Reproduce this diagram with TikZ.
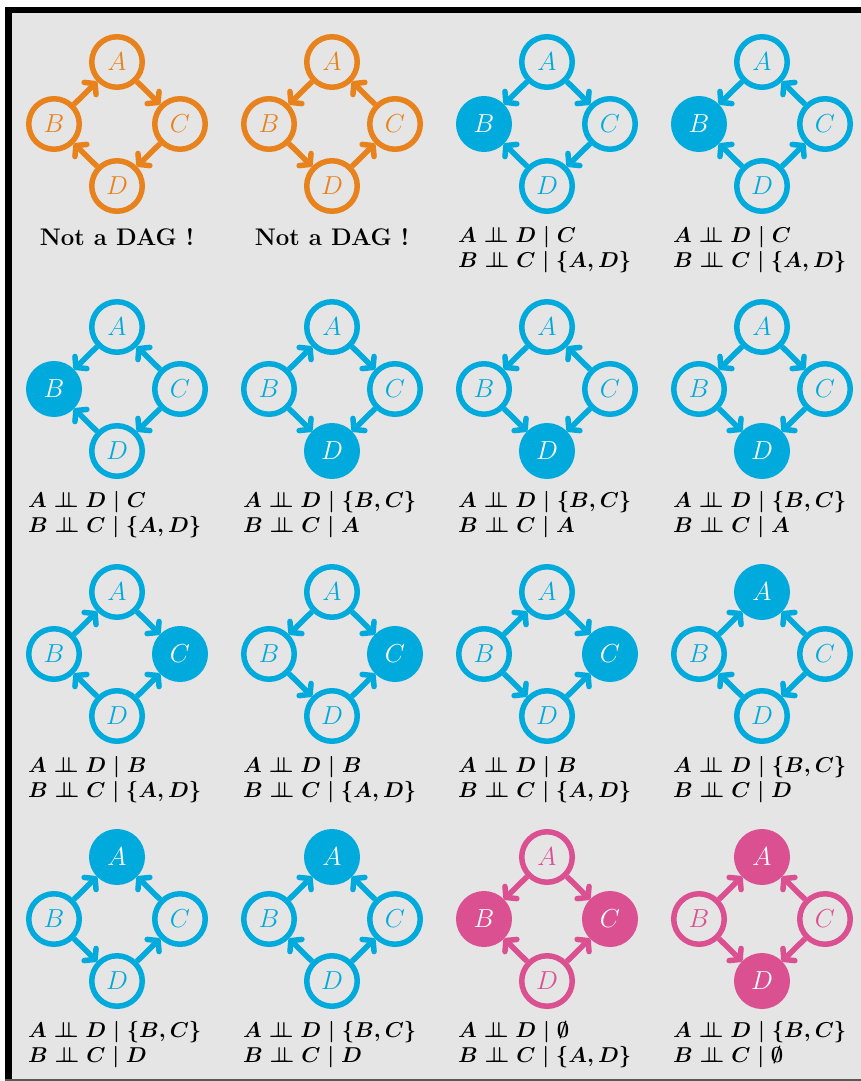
\RequirePackage{fix-cm}
\documentclass[tikz,border=0pt]{standalone}
\usepackage{amsmath}
\usetikzlibrary{arrows.meta}
\definecolor{dagorange}{RGB}{232,130,28}
\definecolor{dagblue}{RGB}{0,170,220}
\definecolor{dagpink}{RGB}{218,80,145}
\definecolor{panelgray}{RGB}{229,229,229}
\newcommand{\indep}{\mathrel{\perp\mkern-10mu\perp}}
\newcommand{\dagnodes}[8]{%
  \node[#5=#4] (#1A) at (#2,#3) {$A$};
  \node[#6=#4] (#1B) at (#2-63,#3+62) {$B$};
  \node[#7=#4] (#1C) at (#2+63,#3+62) {$C$};
  \node[#8=#4] (#1D) at (#2,#3+124) {$D$};
}
\newcommand{\dagedges}[3]{\foreach \s/\t in {#3} {\draw[arr=#2] (#1\s) -- (#1\t);}}
\newcommand{\daglabel}[5]{%
  \node[lbl] (#1L1) at (#2-89,#3+180) {$#4$};
  \node[lbl] (#1L2) at (#2-89,#3+205) {$#5$};
}
\tikzset{
  vnode/.style={circle, draw, line width=5.5pt, minimum size=50.5pt, inner sep=0pt, font=\fontsize{26}{30}\selectfont},
  open/.style={vnode, draw=#1, fill=panelgray, text=#1},
  obs/.style={vnode, draw=#1, fill=#1, text=white},
  arr/.style={draw=#1, line width=5.5pt, -{Straight Barb[length=7pt,width=17pt,round]}},
  lbl/.style={anchor=base west, inner sep=0pt, font=\fontsize{21.5}{25}\selectfont\boldmath},
  notdag/.style={anchor=base, inner sep=0pt, font=\fontsize{24}{28}\selectfont\bfseries},
}
\begin{document}
\begin{tikzpicture}[x=1pt,y=-1pt]
\useasboundingbox (0,0) rectangle (861,1081);
\fill[white] (0,0) rectangle (861,1081);
\fill[panelgray] (5,7) rectangle (861,1081);
\fill[black] (5,7) rectangle (861,13);
\fill[black] (5,7) rectangle (12,1081);
\fill[black!65] (5,1079) rectangle (861,1081);
% Row 1
\dagnodes{p1}{117}{62}{dagorange}{open}{open}{open}{open}
\dagedges{p1}{dagorange}{B/A,A/C,C/D,D/B}
\node[notdag] (p1L) at (117,245) {Not a DAG !};
\dagnodes{p2}{332}{62}{dagorange}{open}{open}{open}{open}
\dagedges{p2}{dagorange}{A/B,C/A,B/D,D/C}
\node[notdag] (p2L) at (332,245) {Not a DAG !};
\dagnodes{p3}{547}{62}{dagblue}{open}{obs}{open}{open}
\dagedges{p3}{dagblue}{A/B,A/C,C/D,D/B}
\daglabel{p3}{547}{62}{A \indep D \mid C}{B \indep C \mid \{A,D\}}
\dagnodes{p4}{762}{62}{dagblue}{open}{obs}{open}{open}
\dagedges{p4}{dagblue}{A/B,C/A,D/B,D/C}
\daglabel{p4}{762}{62}{A \indep D \mid C}{B \indep C \mid \{A,D\}}
% Row 2
\dagnodes{p5}{117}{327}{dagblue}{open}{obs}{open}{open}
\dagedges{p5}{dagblue}{A/B,C/A,C/D,D/B}
\daglabel{p5}{117}{327}{A \indep D \mid C}{B \indep C \mid \{A,D\}}
\dagnodes{p6}{332}{327}{dagblue}{open}{open}{open}{obs}
\dagedges{p6}{dagblue}{B/A,A/C,B/D,C/D}
\daglabel{p6}{332}{327}{A \indep D \mid \{B,C\}}{B \indep C \mid A}
\dagnodes{p7}{547}{327}{dagblue}{open}{open}{open}{obs}
\dagedges{p7}{dagblue}{A/B,C/A,B/D,C/D}
\daglabel{p7}{547}{327}{A \indep D \mid \{B,C\}}{B \indep C \mid A}
\dagnodes{p8}{762}{327}{dagblue}{open}{open}{open}{obs}
\dagedges{p8}{dagblue}{A/B,A/C,B/D,C/D}
\daglabel{p8}{762}{327}{A \indep D \mid \{B,C\}}{B \indep C \mid A}
% Row 3
\dagnodes{p9}{117}{592}{dagblue}{open}{open}{obs}{open}
\dagedges{p9}{dagblue}{B/A,A/C,D/B,D/C}
\daglabel{p9}{117}{592}{A \indep D \mid B}{B \indep C \mid \{A,D\}}
\dagnodes{p10}{332}{592}{dagblue}{open}{open}{obs}{open}
\dagedges{p10}{dagblue}{A/B,A/C,B/D,D/C}
\daglabel{p10}{332}{592}{A \indep D \mid B}{B \indep C \mid \{A,D\}}
\dagnodes{p11}{547}{592}{dagblue}{open}{open}{obs}{open}
\dagedges{p11}{dagblue}{B/A,A/C,B/D,D/C}
\daglabel{p11}{547}{592}{A \indep D \mid B}{B \indep C \mid \{A,D\}}
\dagnodes{p12}{762}{592}{dagblue}{obs}{open}{open}{open}
\dagedges{p12}{dagblue}{B/A,C/A,D/B,C/D}
\daglabel{p12}{762}{592}{A \indep D \mid \{B,C\}}{B \indep C \mid D}
% Row 4
\dagnodes{p13}{117}{857}{dagblue}{obs}{open}{open}{open}
\dagedges{p13}{dagblue}{B/A,C/A,B/D,D/C}
\daglabel{p13}{117}{857}{A \indep D \mid \{B,C\}}{B \indep C \mid D}
\dagnodes{p14}{332}{857}{dagblue}{obs}{open}{open}{open}
\dagedges{p14}{dagblue}{B/A,C/A,D/B,D/C}
\daglabel{p14}{332}{857}{A \indep D \mid \{B,C\}}{B \indep C \mid D}
\dagnodes{p15}{547}{857}{dagpink}{open}{obs}{obs}{open}
\dagedges{p15}{dagpink}{A/B,A/C,D/B,D/C}
\daglabel{p15}{547}{857}{A \indep D \mid \emptyset}{B \indep C \mid \{A,D\}}
\dagnodes{p16}{762}{857}{dagpink}{obs}{open}{open}{obs}
\dagedges{p16}{dagpink}{B/A,C/A,B/D,C/D}
\daglabel{p16}{762}{857}{A \indep D \mid \{B,C\}}{B \indep C \mid \emptyset}
\end{tikzpicture}
\end{document}
